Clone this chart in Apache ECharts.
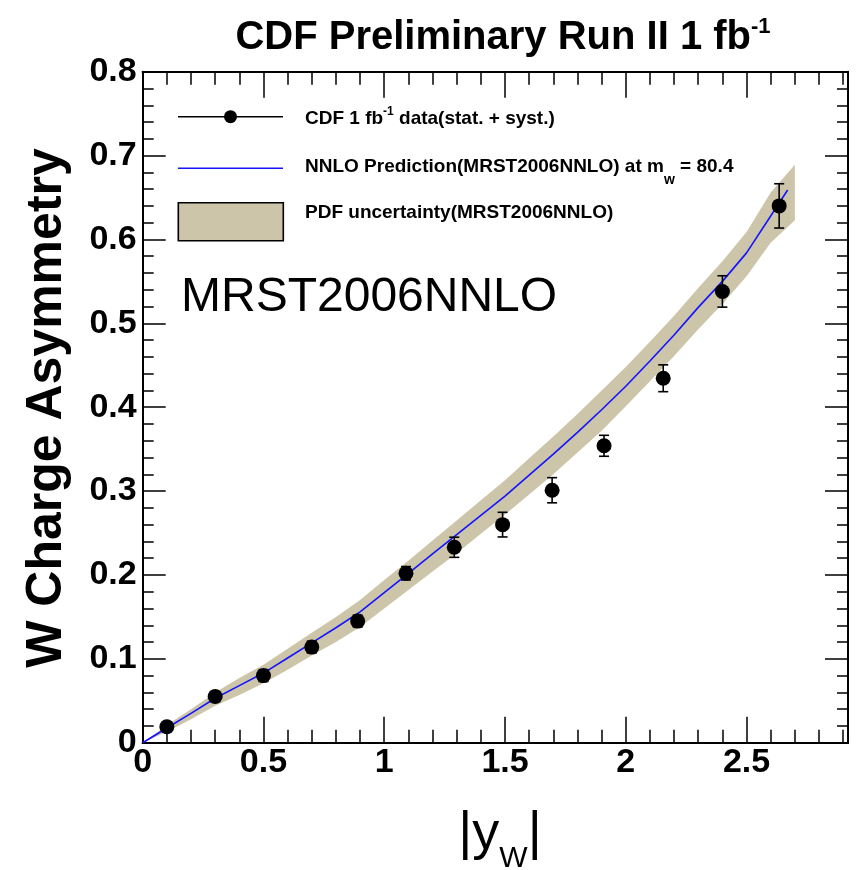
<!DOCTYPE html>
<html><head><meta charset="utf-8">
<script src="https://cdn.jsdelivr.net/npm/echarts@6/dist/echarts.min.js"></script>
<style>html,body{margin:0;padding:0;background:#fff}#c{width:857px;height:870px}</style>
</head><body><div id="c"></div>
<script>
// CDF data points (|y_W|, asymmetry, total uncertainty)
const dataX = [0.10, 0.30, 0.50, 0.70, 0.89, 1.09, 1.29, 1.49, 1.695, 1.91, 2.155, 2.40, 2.635];
const dataY = [0.019, 0.055, 0.080, 0.114, 0.145, 0.202, 0.233, 0.260, 0.301, 0.354, 0.4345, 0.538, 0.640];
const dataErr = [0.006, 0.006, 0.007, 0.007, 0.007, 0.008, 0.012, 0.0147, 0.015, 0.0125, 0.016, 0.0187, 0.0264];

// NNLO prediction (MRST2006NNLO)
const predX = [0, 0.1, 0.2, 0.3, 0.4, 0.5, 0.6, 0.7, 0.8, 0.9, 1.0, 1.1, 1.2, 1.3, 1.4, 1.5, 1.6, 1.7, 1.8, 1.9, 2.0, 2.1, 2.2, 2.3, 2.4, 2.5, 2.6, 2.67];
const predY = [0, 0.0175, 0.035, 0.053, 0.068, 0.083, 0.101, 0.119, 0.137, 0.156, 0.179, 0.202, 0.225, 0.248, 0.271, 0.294, 0.319, 0.344, 0.370, 0.397, 0.425, 0.455, 0.486, 0.519, 0.550, 0.584, 0.628, 0.659];

// PDF uncertainty band
const bandX = [0, 0.1, 0.2, 0.3, 0.4, 0.5, 0.6, 0.7, 0.8, 0.9, 1.0, 1.1, 1.2, 1.3, 1.4, 1.5, 1.6, 1.7, 1.8, 1.9, 2.0, 2.1, 2.2, 2.3, 2.4, 2.5, 2.6, 2.7];
const bandUpper = [0, 0.021, 0.040, 0.060, 0.077, 0.093, 0.112, 0.131, 0.150, 0.170, 0.194, 0.217, 0.241, 0.265, 0.289, 0.313, 0.339, 0.365, 0.392, 0.420, 0.448, 0.478, 0.509, 0.542, 0.574, 0.609, 0.656, 0.689];
const bandLower = [0, 0.013, 0.028, 0.044, 0.057, 0.071, 0.087, 0.104, 0.120, 0.138, 0.160, 0.182, 0.204, 0.226, 0.249, 0.272, 0.296, 0.320, 0.346, 0.372, 0.401, 0.431, 0.461, 0.493, 0.523, 0.556, 0.596, 0.623];

// Axis ranges / ticks
const xMin = 0, xMax = 2.92, xMajor = 0.5, xMinor = 0.1;
const yMin = 0, yMax = 0.8, yMajor = 0.1;

const FONT = '"Liberation Sans", Arial, Helvetica, sans-serif';
const BAND = '#ccc5a9';

const chart = echarts.init(document.getElementById('c'), null, {renderer: 'canvas'});

function xAx(pos, interval, tickLen, labels) {
  return {
    type: 'value', position: pos, min: xMin, max: xMax, interval: interval,
    axisLine: {show: true, onZero: false, lineStyle: {color: '#000', width: 2}},
    axisTick: {show: true, inside: true, length: tickLen, lineStyle: {color: '#000', width: 1.5}},
    axisLabel: {show: labels, color: '#000', fontSize: 34, fontWeight: 'bold', fontFamily: FONT, margin: 3, showMaxLabel: false},
    splitLine: {show: false}
  };
}
function yAx(pos, labels) {
  return {
    type: 'value', position: pos, min: yMin, max: yMax, interval: yMajor,
    axisLine: {show: true, onZero: false, lineStyle: {color: '#000', width: 2}},
    axisTick: {show: true, inside: true, length: 23, lineStyle: {color: '#000', width: 1.5}},
    minorTick: {show: true, splitNumber: 5, length: 11, lineStyle: {color: '#000', width: 1.5}},
    axisLabel: {show: labels, color: '#000', fontSize: 34, fontWeight: 'bold', fontFamily: FONT, margin: 6},
    splitLine: {show: false}, minorSplitLine: {show: false}
  };
}

const option = {
  animation: false,
  backgroundColor: '#fff',
  grid: {left: 142.7, top: 71.7, right: 9, bottom: 127.3, containLabel: false},
  xAxis: [
    xAx('bottom', xMajor, 26, true),
    xAx('bottom', xMinor, 13, false),
    xAx('top', xMajor, 26, false),
    xAx('top', xMinor, 13, false)
  ],
  yAxis: [yAx('left', true), yAx('right', false)],
  series: [
    {
      type: 'custom', name: 'band', coordinateSystem: 'cartesian2d', xAxisIndex: 0, yAxisIndex: 0, z: 1,
      data: bandX.map((x, i) => [x, bandLower[i], bandUpper[i]]),
      encode: {x: 0, y: [1, 2]},
      renderItem: function (params, api) {
        if (params.dataIndex !== 0) return null;
        const pts = [];
        for (let i = 0; i < bandX.length; i++) pts.push(api.coord([bandX[i], bandUpper[i]]));
        for (let i = bandX.length - 1; i >= 0; i--) pts.push(api.coord([bandX[i], bandLower[i]]));
        return {type: 'polygon', shape: {points: pts}, style: {fill: BAND, stroke: null}};
      },
      silent: true
    },
    {
      type: 'line', name: 'pred', xAxisIndex: 0, yAxisIndex: 0, z: 2,
      data: predX.map((x, i) => [x, predY[i]]),
      showSymbol: false, symbol: 'none',
      lineStyle: {color: '#1414ff', width: 1.6}
    },
    {
      type: 'custom', name: 'err', coordinateSystem: 'cartesian2d', xAxisIndex: 0, yAxisIndex: 0, z: 3,
      data: dataX.map((x, i) => [x, dataY[i] - dataErr[i], dataY[i] + dataErr[i]]),
      encode: {x: 0, y: [1, 2]},
      renderItem: function (params, api) {
        const x = api.value(0);
        const p1 = api.coord([x, api.value(1)]);
        const p2 = api.coord([x, api.value(2)]);
        const c = 5;
        const st = {stroke: '#000', lineWidth: 1.6};
        return {type: 'group', children: [
          {type: 'line', shape: {x1: p1[0], y1: p1[1], x2: p2[0], y2: p2[1]}, style: st},
          {type: 'line', shape: {x1: p1[0] - c, y1: p1[1], x2: p1[0] + c, y2: p1[1]}, style: st},
          {type: 'line', shape: {x1: p2[0] - c, y1: p2[1], x2: p2[0] + c, y2: p2[1]}, style: st}
        ]};
      }
    },
    {
      type: 'scatter', name: 'data', xAxisIndex: 0, yAxisIndex: 0, z: 4,
      data: dataX.map((x, i) => [x, dataY[i]]),
      symbol: 'circle', symbolSize: 15,
      itemStyle: {color: '#000', opacity: 1}
    }
  ],
  graphic: [
    // title
    {type: 'text', x: 503, y: 38, style: {
      text: '{t|CDF Preliminary Run II 1 fb}{s|-1}',
      align: 'center', verticalAlign: 'middle',
      rich: {
        t: {fontSize: 40, fontWeight: 'bold', fontFamily: FONT, fill: '#000', lineHeight: 44, verticalAlign: 'middle'},
        s: {fontSize: 22, fontWeight: 'bold', fontFamily: FONT, fill: '#000', lineHeight: 22, verticalAlign: 'top'}
      }
    }},
    // y axis title
    {type: 'text', x: 47, y: 408, rotation: Math.PI / 2, style: {
      text: 'W Charge Asymmetry', align: 'center', verticalAlign: 'middle',
      font: 'bold 50px ' + FONT, fill: '#000'
    }},
    // x axis title
    {type: 'text', x: 500, y: 834, style: {
      text: '{m||y}{s|W}{m||}', align: 'center', verticalAlign: 'middle',
      rich: {
        m: {fontSize: 54, fontFamily: FONT, fill: '#000', lineHeight: 80, verticalAlign: 'middle'},
        s: {fontSize: 30, fontFamily: FONT, fill: '#000', lineHeight: 30, verticalAlign: 'bottom'}
      }
    }},
    // MRST label
    {type: 'text', x: 181, y: 298, style: {
      text: 'MRST2006NNLO', align: 'left', verticalAlign: 'middle',
      font: '48px ' + FONT, fill: '#000'
    }},
    // legend entry 1
    {type: 'line', shape: {x1: 178, y1: 116.7, x2: 283, y2: 116.7}, style: {stroke: '#000', lineWidth: 1.6}},
    {type: 'circle', shape: {cx: 230.5, cy: 116.7, r: 6.5}, style: {fill: '#000'}},
    {type: 'text', x: 305, y: 118.5, style: {
      text: '{a|CDF 1 fb}{s|-1}{a| data(stat. + syst.)}', align: 'left', verticalAlign: 'middle',
      rich: {
        a: {fontSize: 19, fontWeight: 'bold', fontFamily: FONT, fill: '#000', lineHeight: 26, verticalAlign: 'middle'},
        s: {fontSize: 12, fontWeight: 'bold', fontFamily: FONT, fill: '#000', lineHeight: 12, verticalAlign: 'top'}
      }
    }},
    // legend entry 2
    {type: 'line', shape: {x1: 178, y1: 168.3, x2: 283, y2: 168.3}, style: {stroke: '#1414ff', lineWidth: 1.6}},
    {type: 'text', x: 305, y: 172, style: {
      text: '{a|NNLO Prediction(MRST2006NNLO) at m}{s|w}{a| = 80.4}', align: 'left', verticalAlign: 'middle',
      rich: {
        a: {fontSize: 19, fontWeight: 'bold', fontFamily: FONT, fill: '#000', lineHeight: 30, verticalAlign: 'top'},
        s: {fontSize: 14, fontWeight: 'bold', fontFamily: FONT, fill: '#000', lineHeight: 14, verticalAlign: 'bottom'}
      }
    }},
    // legend entry 3
    {type: 'rect', shape: {x: 178.3, y: 202.7, width: 105, height: 38}, style: {fill: BAND, stroke: '#000', lineWidth: 1.6}},
    {type: 'text', x: 305, y: 212.5, style: {
      text: 'PDF uncertainty(MRST2006NNLO)', align: 'left', verticalAlign: 'middle',
      font: 'bold 19px ' + FONT, fill: '#000'
    }}
  ]
};
chart.setOption(option);
</script>
</body></html>
